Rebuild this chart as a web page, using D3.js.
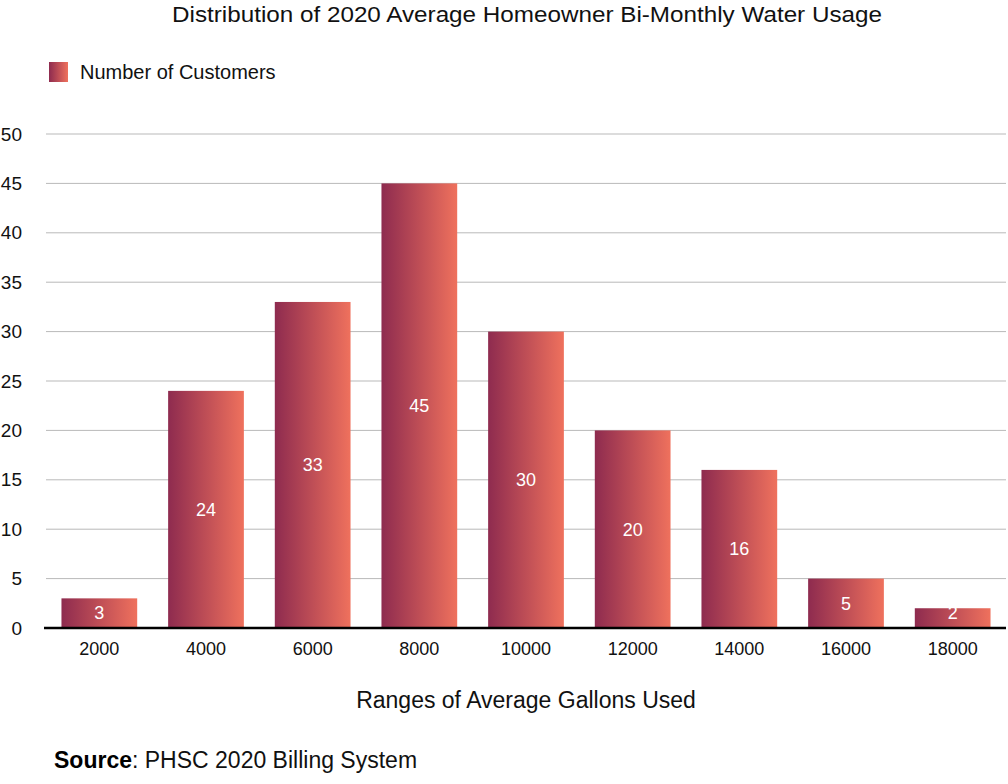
<!DOCTYPE html>
<html><head><meta charset="utf-8">
<script src="https://cdn.jsdelivr.net/npm/d3@7"></script>
<style>body{margin:0;background:#fff}svg{display:block;font-family:"Liberation Sans",Arial,sans-serif}</style>
</head><body><svg id="c" width="1008" height="784"></svg>
<script>
const categories = ["2000","4000","6000","8000","10000","12000","14000","16000","18000"];
const customers = [3,24,33,45,30,20,16,5,2];
const yTicks = [0,5,10,15,20,25,30,35,40,45,50];
const title = "Distribution of 2020 Average Homeowner Bi-Monthly Water Usage";
const seriesName = "Number of Customers";
const xTitle = "Ranges of Average Gallons Used";

const svg = d3.select("#c");
const defs = svg.append("defs");
const g = defs.append("linearGradient").attr("id","grad").attr("x1","0").attr("x2","1").attr("y1","0").attr("y2","0");
g.append("stop").attr("offset","0").attr("stop-color","#8E2B4F");
g.append("stop").attr("offset","1").attr("stop-color","#EF715D");

const x = d3.scaleBand().domain(categories).range([46,1006]).paddingInner(0.29).paddingOuter(0.145);
const y = d3.scaleLinear().domain([0,50]).range([628,134]);

// gridlines
svg.append("g").selectAll("line").data(yTicks.filter(d=>d>0)).join("line")
  .attr("x1",46).attr("x2",1006).attr("y1",d=>y(d)).attr("y2",d=>y(d))
  .attr("stroke","#b9b9b9").attr("stroke-width",1);

// y labels
const ya = svg.append("g").attr("transform","translate(22,0)")
  .call(d3.axisLeft(y).tickValues(yTicks).tickSize(0).tickPadding(0));
ya.select(".domain").remove();
ya.selectAll("text").attr("font-size",19).attr("fill","#111").attr("font-family","Liberation Sans, Arial, sans-serif");

// bars
svg.append("g").selectAll("rect").data(customers).join("rect")
  .attr("x",(d,i)=>x(categories[i])).attr("width",x.bandwidth())
  .attr("y",d=>y(d)).attr("height",d=>y(0)-y(d)).attr("fill","url(#grad)");

// value labels
svg.append("g").selectAll("text").data(customers).join("text")
  .attr("x",(d,i)=>x(categories[i])+x.bandwidth()/2)
  .attr("y",d=>Math.min((y(d)+y(0))/2, y(0)-15))
  .attr("dy","0.35em").attr("text-anchor","middle").attr("fill","#fff").attr("font-size",18)
  .text(d=>d);

// x axis
const xa = svg.append("g").attr("transform","translate(0,628)")
  .call(d3.axisBottom(x).tickSize(0).tickPadding(14));
xa.select(".domain").attr("stroke","#000").attr("stroke-width",2.5).attr("d","M44,0H1006");
xa.selectAll("text").attr("font-size",18).attr("fill","#111").attr("font-family","Liberation Sans, Arial, sans-serif");

// title
svg.append("text").attr("x",527).attr("y",22).attr("text-anchor","middle").attr("font-size",22)
  .attr("textLength",710).attr("lengthAdjust","spacingAndGlyphs").attr("fill","#111").text(title);

// legend
svg.append("rect").attr("x",49).attr("y",62).attr("width",19).attr("height",20).attr("fill","url(#grad)");
svg.append("text").attr("x",80).attr("y",79).attr("font-size",20).attr("fill","#111").text(seriesName);

// x title
svg.append("text").attr("x",526).attr("y",708).attr("text-anchor","middle").attr("font-size",23).attr("fill","#111").text(xTitle);

// source
const s = svg.append("text").attr("x",54).attr("y",768).attr("font-size",23).attr("fill","#111");
s.append("tspan").attr("font-weight","bold").attr("fill","#000").text("Source");
s.append("tspan").text(": PHSC 2020 Billing System");
</script></body></html>
